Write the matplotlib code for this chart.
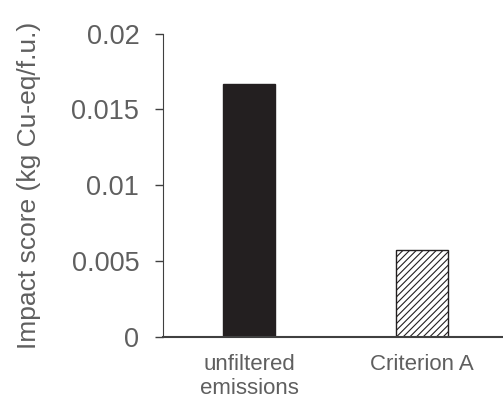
import matplotlib.pyplot as plt

categories = ["unfiltered\nemissions", "Criterion A"]
impact = [0.0167, 0.00573]

plt.rcParams['font.family'] = ['Liberation Sans', 'DejaVu Sans']
plt.rcParams['hatch.linewidth'] = 0.8

fig = plt.figure(figsize=(5.03, 3.98), dpi=100)
ax = fig.add_axes([0.324, 0.1533, 0.676, 0.7625])

x = range(len(categories))
bars = ax.bar(x, impact, width=0.3, color=["#231f20", "white"],
              edgecolor="#231f20", linewidth=1.0)
bars[1].set_hatch("/////")

ax.set_xlim(-0.5, 1.468)
ax.set_ylim(0, 0.02)
ax.set_yticks([0, 0.005, 0.01, 0.015, 0.02])
ax.set_yticklabels(["0", "0.005", "0.01", "0.015", "0.02"])
ax.set_xticks(list(x))
ax.set_xticklabels(categories, fontsize=16, color="#5f5f5f", linespacing=1.2)

ax.tick_params(axis="y", labelsize=19.5, labelcolor="#5f5f5f", length=6,
               width=1, color="#404040", pad=11)
ax.tick_params(axis="x", length=0, pad=12)

ax.spines["top"].set_visible(False)
ax.spines["right"].set_visible(False)
ax.spines["left"].set_color("#404040")
ax.spines["bottom"].set_color("#404040")
ax.spines["bottom"].set_linewidth(1.5)

ax.set_ylabel("Impact score (kg Cu-eq/f.u.)", fontsize=19, color="#5f5f5f",
              labelpad=22)

fig.savefig("out.png", dpi=100)
